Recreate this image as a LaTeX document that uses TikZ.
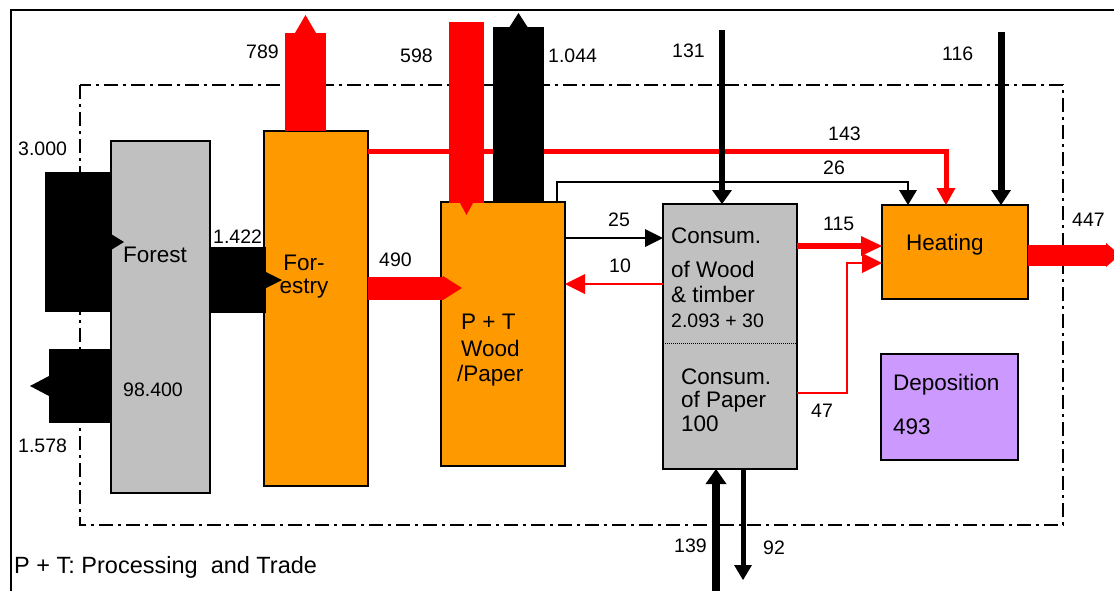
\documentclass[tikz,border=0pt]{standalone}
\usepackage{fontspec}
\setmainfont{Liberation Sans}
\usetikzlibrary{arrows.meta, positioning}
\definecolor{boxorange}{HTML}{FF9900}
\definecolor{boxgray}{HTML}{C0C0C0}
\definecolor{boxlilac}{HTML}{CC99FF}
\newcommand{\labfont}{\fontsize{19.5}{22}\selectfont}
\newcommand{\blkfont}{\fontsize{22.5}{26}\selectfont}

\begin{document}
\begin{tikzpicture}[
  x=1pt, y=-1pt,
  blk/.style       = {draw, line width=1.5pt, inner sep=0pt, outer sep=0pt},
  orangebox/.style = {blk, fill=boxorange},
  greybox/.style   = {blk, fill=boxgray},
  lilacbox/.style  = {blk, fill=boxlilac},
  lab/.style       = {inner sep=0pt, anchor=base west, font=\labfont},
  txt/.style       = {inner sep=0pt, anchor=base west, font=\blkfont},
  ahead/.style 2 args = {-{Triangle[length=#1, width=#2, line width=0pt]}},
  bflow/.style     = {black},
  rflow/.style     = {red},
  sysframe/.style  = {line width=1.5pt, dash pattern=on 14pt off 5pt on 3pt off 5pt},
]
  \useasboundingbox (0,0) rectangle (1114,590);

  % system border and page frame
  \draw[sysframe] (80,85) rectangle (1063,525);
  \draw[line width=2pt] (11,600) -- (11,10) -- (1120,10);

  % boxes
  \node[greybox,   minimum width=99pt,  minimum height=352pt] (forest)   at (160.5,317) {};
  \node[orangebox, minimum width=104pt, minimum height=355pt] (forestry) at (316,308.5) {};
  \node[orangebox, minimum width=124pt, minimum height=264pt] (pt)       at (503,334) {};
  \node[greybox,   minimum width=134pt, minimum height=265pt] (consum)   at (730,336.5) {};
  \node[orangebox, minimum width=146pt, minimum height=94pt]  (heating)  at (955,252) {};
  \node[lilacbox,  minimum width=137pt, minimum height=106pt] (depo)     at (949.5,407) {};

  % free ends and rows of the flows
  \coordinate (in3000)  at (45,242);
  \coordinate (out1578) at (30,386);
  \coordinate (r1422)   at (0,280);
  \coordinate (out789)  at (305.5,15);
  \coordinate (in598)   at (466.5,22);
  \coordinate (out1044) at (518.5,13);
  \coordinate (r490)    at (0,288);
  \coordinate (c143)    at (946,151);
  \coordinate (c26a)    at (557,182);
  \coordinate (c26b)    at (908,182);
  \coordinate (in131)   at (722,30);
  \coordinate (in116)   at (1001,32);
  \coordinate (r25)     at (0,238);
  \coordinate (r10)     at (0,284);
  \coordinate (r115)    at (0,246);
  \coordinate (c47a)    at (847,393);
  \coordinate (c47b)    at (847,263);
  \coordinate (r447)    at (0,255);
  \coordinate (out447)  at (1120,255);
  \coordinate (in139)   at (716,595);
  \coordinate (out92)   at (743,580);
  \coordinate (rdot)    at (0,343);

  % flows
  \draw[bflow, line width=140pt, ahead={13pt}{16pt}, shorten >=-13pt] (in3000) -- (in3000 -| forest.west);
  \draw[bflow, line width=74pt, ahead={19pt}{20pt}] (forest.west |- out1578) -- (out1578);
  \draw[bflow, line width=66pt, ahead={16pt}{16pt}, shorten >=-18pt] (forest.east |- r1422) -- (forestry.west |- r1422);
  \draw[rflow, line width=41pt, ahead={18pt}{21pt}] (forestry.north -| out789) -- (out789);
  \draw[rflow, line width=5pt, ahead={17pt}{19pt}] (forestry.east |- c143) -- (c143) -- (c143 |- heating.north);
  \draw[rflow, line width=35pt, ahead={12pt}{13pt}, shorten >=-13pt] (in598) -- (in598 |- pt.north);
  \draw[bflow, line width=51pt, ahead={14pt}{18pt}] (pt.north -| out1044) -- (out1044);
  \draw[rflow, line width=23pt, ahead={19pt}{24pt}, shorten >=-21pt] (forestry.east |- r490) -- (pt.west |- r490);
  \draw[bflow, line width=1.3pt, ahead={15pt}{18pt}] (c26a |- pt.north) -- (c26a) -- (c26b) -- (c26b |- heating.north);
  \draw[bflow, line width=6pt, ahead={14pt}{20pt}] (in131) -- (in131 |- consum.north);
  \draw[bflow, line width=7pt, ahead={15pt}{20pt}] (in116) -- (in116 |- heating.north);
  \draw[bflow, line width=1.3pt, ahead={18pt}{18pt}] (pt.east |- r25) -- (consum.west |- r25);
  \draw[rflow, line width=1.5pt, ahead={20pt}{20pt}] (consum.west |- r10) -- (pt.east |- r10);
  \draw[rflow, line width=6pt, ahead={21pt}{20pt}] (consum.east |- r115) -- (heating.west |- r115);
  \draw[rflow, line width=1.5pt, ahead={20pt}{20pt}] (consum.east |- c47a) -- (c47a) -- (c47b) -- (heating.west |- c47b);
  \draw[rflow, line width=21pt, ahead={14pt}{24pt}] (heating.east |- r447) -- (out447);
  \draw[bflow, line width=8pt, ahead={15pt}{21pt}] (in139) -- (in139 |- consum.south);
  \draw[bflow, line width=5pt, ahead={15pt}{18pt}] (consum.south -| out92) -- (out92);
  \draw[densely dotted, line width=1pt] (consum.west |- rdot) -- (consum.east |- rdot);

  % box texts
  \node[txt] (forestname) at (123,262) {Forest};
  \node[lab] (forestval)  at (123,396) {98.400};
  \node[txt, anchor=base] (forestry1) at (304,270) {For-};
  \node[txt, anchor=base] (forestry2) at (304,293) {estry};
  \node[txt] (pt1) at (461,329) {P + T};
  \node[txt] (pt2) at (461,356) {Wood};
  \node[txt] (pt3) at (457,381) {/Paper};
  \node[txt] (cw1) at (671,243) {Consum.};
  \node[txt] (cw2) at (671,277) {of Wood};
  \node[txt] (cw3) at (671,302) {\& timber};
  \node[lab] (cw4) at (671,327) {2.093 + 30};
  \node[txt] (cp1) at (681,384) {Consum.};
  \node[txt] (cp2) at (681,407) {of Paper};
  \node[txt] (cp3) at (681,431) {100};
  \node[txt] (heatname) at (906,250) {Heating};
  \node[txt] (deponame) at (893,390) {Deposition};
  \node[txt] (depoval)  at (893,434) {493};

  % flow values
  \node[lab] (l3000) at (18,155)   {3.000};
  \node[lab] (l1578) at (18,452)   {1.578};
  \node[lab] (l1422) at (213,243)  {1.422};
  \node[lab] (l789)  at (246,58)   {789};
  \node[lab] (l598)  at (400,62)   {598};
  \node[lab] (l1044) at (548,62)   {1.044};
  \node[lab] (l131)  at (672,57)   {131};
  \node[lab] (l116)  at (942,60)   {116};
  \node[lab] (l143)  at (828,140)  {143};
  \node[lab] (l26)   at (823,174)  {26};
  \node[lab] (l115)  at (823,230)  {115};
  \node[lab] (l25)   at (608,226)  {25};
  \node[lab] (l10)   at (609,272)  {10};
  \node[lab] (l490)  at (379,266)  {490};
  \node[lab] (l47)   at (811,417)  {47};
  \node[lab] (l447)  at (1072,226) {447};
  \node[lab] (l139)  at (674,552)  {139};
  \node[lab] (l92)   at (763,554)  {92};

  \node[txt, font=\fontsize{23.5}{27}\selectfont] (note) at (14,573) {P + T: Processing\ \ and Trade};
\end{tikzpicture}
\end{document}
